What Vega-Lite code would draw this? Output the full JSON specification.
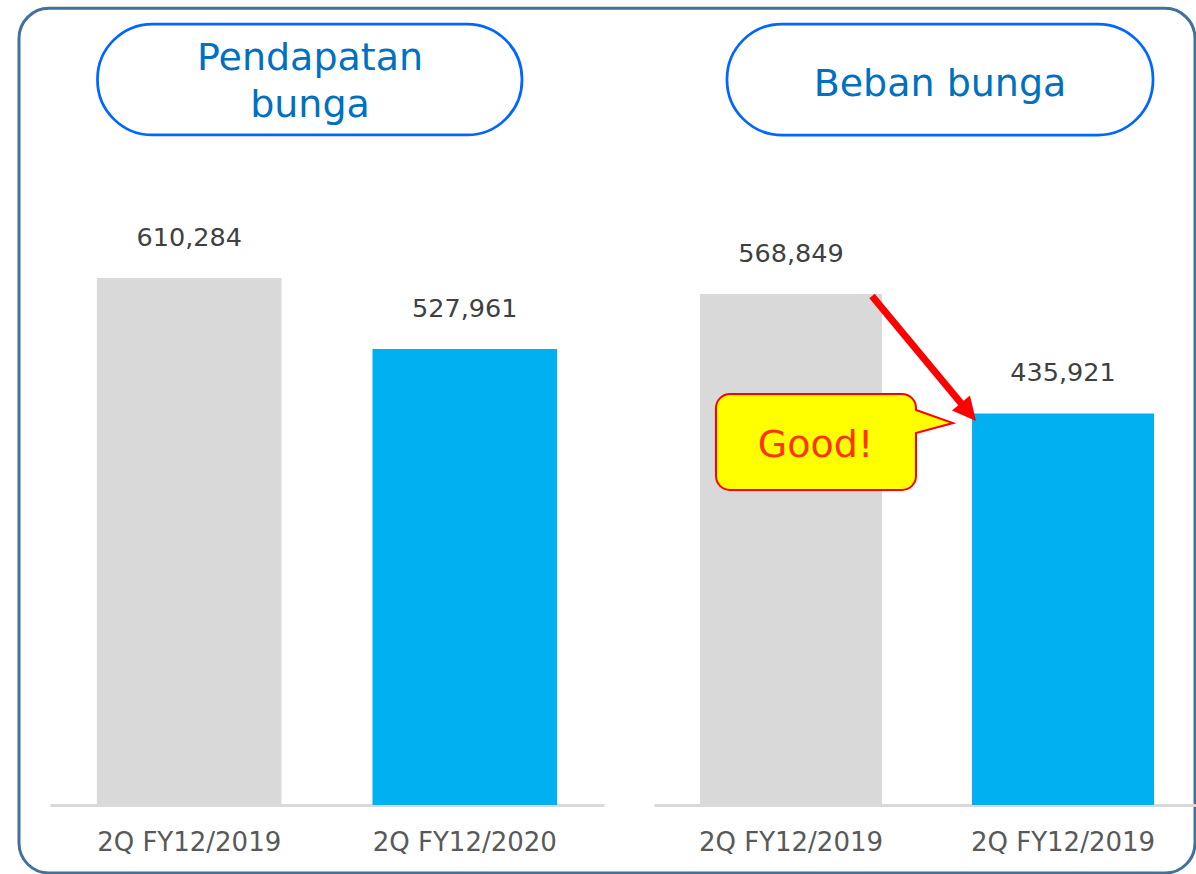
{
  "$schema": "https://vega.github.io/schema/vega-lite/v6.json",
  "padding": {"left": 17, "top": 0, "right": 0, "bottom": 0},
  "autosize": {"type": "pad"},
  "background": "white",
  "config": {"view": {"stroke": null}, "font": "DejaVu Sans", "text": {"font": "DejaVu Sans"}},
  "data": {"values": [
    {"panel": "Pendapatan bunga", "slot": "prev", "period": "2Q FY12/2019", "value": 610284},
    {"panel": "Pendapatan bunga", "slot": "curr", "period": "2Q FY12/2020", "value": 527961},
    {"panel": "Beban bunga", "slot": "prev", "period": "2Q FY12/2019", "value": 568849},
    {"panel": "Beban bunga", "slot": "curr", "period": "2Q FY12/2019", "value": 435921}
  ]},
  "bounds": "flush",
  "spacing": 50,
  "hconcat": [
    {
      "width": 554,
      "height": 805,
      "layer": [
        {
          "transform": [{"filter": "datum.panel === 'Pendapatan bunga'"}],
          "encoding": {
            "x": {"field": "slot", "type": "nominal", "sort": ["prev", "curr"], "scale": {"paddingInner": 0.33, "paddingOuter": 0.17}, "axis": {"labels": false, "ticks": false, "title": null, "grid": false, "domainColor": "#d9d9d9", "domainWidth": 3}},
            "y": {"field": "value", "type": "quantitative", "scale": {"domain": [0, 932214], "nice": false}, "axis": null}
          },
          "layer": [
            {"mark": {"type": "bar"}, "encoding": {"color": {"field": "slot", "type": "nominal", "scale": {"domain": ["prev", "curr"], "range": ["#d9d9d9", "#00b0f0"]}, "legend": null}}},
            {"mark": {"type": "text", "dy": -40, "fontSize": 25.5, "color": "#404040", "baseline": "middle", "align": "center"}, "encoding": {"text": {"field": "value", "type": "quantitative", "format": ","}}},
            {"mark": {"type": "text", "dy": 38, "fontSize": 26, "color": "#595959", "baseline": "middle", "align": "center"}, "encoding": {"y": {"datum": 0, "type": "quantitative"}, "text": {"field": "period", "type": "nominal"}}}
          ]
        },
        {
          "data": {"values": [{}]},
          "layer": [
            {"mark": {"type": "rect", "fill": "transparent", "stroke": "#44709d", "strokeWidth": 3, "cornerRadius": 30},
             "encoding": {
               "x": {"datum": -5.596, "type": "quantitative", "scale": {"domain": [0, 100], "nice": false, "zero": false}, "axis": null},
               "x2": {"datum": 206.68},
               "y": {"datum": 922602, "type": "quantitative", "scale": {"domain": [0, 932214], "nice": false}, "axis": null},
               "y2": {"datum": -78746}
             }},
            {"mark": {"type": "rect", "fill": "transparent", "stroke": "#0066ff", "strokeWidth": 2.75, "cornerRadius": 55},
             "encoding": {
               "x": {"datum": 8.574, "type": "quantitative", "scale": {"domain": [0, 100], "nice": false, "zero": false}, "axis": null},
               "x2": {"datum": 85.199},
               "y": {"datum": 904421, "type": "quantitative", "scale": {"domain": [0, 932214], "nice": false}, "axis": null},
               "y2": {"datum": 775880}
             }},
            {"mark": {"type": "text", "text": ["Pendapatan", "bunga"], "fontSize": 38, "lineHeight": 47, "color": "#0070c0", "align": "center", "baseline": "alphabetic"},
             "encoding": {
               "x": {"datum": 46.93, "type": "quantitative", "scale": {"domain": [0, 100], "nice": false, "zero": false}, "axis": null},
               "y": {"datum": 851152, "type": "quantitative", "scale": {"domain": [0, 932214], "nice": false}, "axis": null}
             }}
          ]
        }
      ],
      "resolve": {"scale": {"x": "independent"}}
    },
    {
      "width": 546,
      "height": 805,
      "layer": [
        {
          "transform": [{"filter": "datum.panel === 'Beban bunga'"}],
          "encoding": {
            "x": {"field": "slot", "type": "nominal", "sort": ["prev", "curr"], "scale": {"paddingInner": 0.331, "paddingOuter": 0.169}, "axis": {"labels": false, "ticks": false, "title": null, "grid": false, "domainColor": "#d9d9d9", "domainWidth": 3}},
            "y": {"field": "value", "type": "quantitative", "scale": {"domain": [0, 896121], "nice": false}, "axis": null}
          },
          "layer": [
            {"mark": {"type": "bar"}, "encoding": {"color": {"field": "slot", "type": "nominal", "scale": {"domain": ["prev", "curr"], "range": ["#d9d9d9", "#00b0f0"]}, "legend": null}}},
            {"mark": {"type": "text", "dy": -40, "fontSize": 25.5, "color": "#404040", "baseline": "middle", "align": "center"}, "encoding": {"text": {"field": "value", "type": "quantitative", "format": ","}}},
            {"mark": {"type": "text", "dy": 38, "fontSize": 26, "color": "#595959", "baseline": "middle", "align": "center"}, "encoding": {"y": {"datum": 0, "type": "quantitative"}, "text": {"field": "period", "type": "nominal"}}}
          ]
        },
        {
          "data": {"values": [{}]},
          "layer": [
            {"mark": {"type": "rect", "fill": "transparent", "stroke": "#0066ff", "strokeWidth": 2.75, "cornerRadius": 55},
             "encoding": {
               "x": {"datum": 13.37, "type": "quantitative", "scale": {"domain": [0, 100], "nice": false, "zero": false}, "axis": null},
               "x2": {"datum": 91.39},
               "y": {"datum": 869401, "type": "quantitative", "scale": {"domain": [0, 896121], "nice": false}, "axis": null},
               "y2": {"datum": 745837}
             }},
            {"mark": {"type": "text", "text": "Beban bunga", "fontSize": 38, "color": "#0070c0", "align": "center", "baseline": "alphabetic"},
             "encoding": {
               "x": {"datum": 52.38, "type": "quantitative", "scale": {"domain": [0, 100], "nice": false, "zero": false}, "axis": null},
               "y": {"datum": 789252, "type": "quantitative", "scale": {"domain": [0, 896121], "nice": false}, "axis": null}
             }},
            {"mark": {"type": "rule", "color": "#ff0000", "strokeWidth": 7},
             "encoding": {
               "x": {"datum": 39.93, "type": "quantitative", "scale": {"domain": [0, 100], "nice": false, "zero": false}, "axis": null},
               "x2": {"datum": 56.96},
               "y": {"datum": 566614, "type": "quantitative", "scale": {"domain": [0, 896121], "nice": false}, "axis": null},
               "y2": {"datum": 441936}
             }},
            {"mark": {"type": "point", "shape": "M0,-1L0.9,0.8L-0.9,0.8Z", "size": 676, "angle": 140, "filled": true, "fill": "#ff0000", "strokeWidth": 0, "opacity": 1},
             "encoding": {
               "x": {"datum": 57.45, "type": "quantitative", "scale": {"domain": [0, 100], "nice": false, "zero": false}, "axis": null},
               "y": {"datum": 438597, "type": "quantitative", "scale": {"domain": [0, 896121], "nice": false}, "axis": null}
             }},
            {"mark": {"type": "point", "shape": "M-86,-48L86,-48A14,14 0 0 1 100,-34L100,-32L137,-19L100,-9L100,34A14,14 0 0 1 86,48L-86,48A14,14 0 0 1 -100,34L-100,-34A14,14 0 0 1 -86,-48Z", "size": 4, "filled": true, "fill": "#ffff00", "stroke": "#ff0000", "strokeWidth": 2, "opacity": 1},
             "encoding": {
               "x": {"datum": 29.67, "type": "quantitative", "scale": {"domain": [0, 100], "nice": false, "zero": false}, "axis": null},
               "y": {"datum": 404088, "type": "quantitative", "scale": {"domain": [0, 896121], "nice": false}, "axis": null}
             }},
            {"mark": {"type": "text", "text": "Good!", "fontSize": 38, "color": "#ff3300", "align": "center", "baseline": "alphabetic"},
             "encoding": {
               "x": {"datum": 29.58, "type": "quantitative", "scale": {"domain": [0, 100], "nice": false, "zero": false}, "axis": null},
               "y": {"datum": 387390, "type": "quantitative", "scale": {"domain": [0, 896121], "nice": false}, "axis": null}
             }}
          ]
        }
      ],
      "resolve": {"scale": {"x": "independent"}}
    }
  ]
}
